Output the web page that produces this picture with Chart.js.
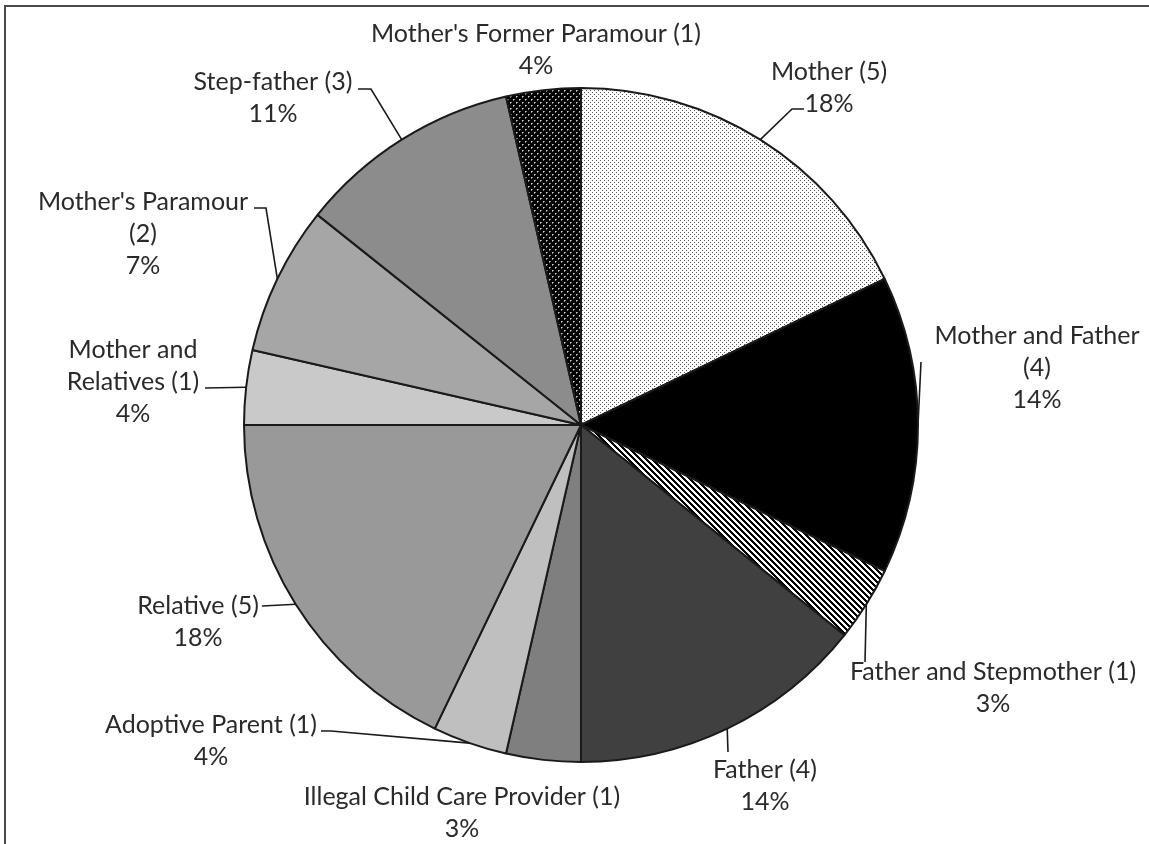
<!DOCTYPE html>
<html>
<head>
<meta charset="utf-8">
<script src="https://cdn.jsdelivr.net/npm/chart.js@4.4.1/dist/chart.umd.min.js"></script>
<style>
  html, body { margin: 0; padding: 0; background: #fff; }
  #wrap { position: relative; width: 1149px; height: 844px; overflow: hidden; }
  #frame { position: absolute; left: 4px; top: 5px; width: 2000px; height: 2000px;
           border-left: 2px solid #4a4a4a; border-top: 2px solid #4a4a4a; }
  canvas { position: absolute; left: 0; top: 0; }
</style>
</head>
<body>
<div id="wrap">
  <div id="frame"></div>
  <canvas id="c" width="1149" height="844"></canvas>
</div>
<script>
// ---- data ----
const categories = [
  "Mother", "Mother and Father", "Father and Stepmother", "Father",
  "Illegal Child Care Provider", "Adoptive Parent", "Relative",
  "Mother and Relatives", "Mother's Paramour", "Step-father",
  "Mother's Former Paramour"
];
const counts = [5, 4, 1, 4, 1, 1, 5, 1, 2, 3, 1];
const percentLabels = ["18%", "14%", "3%", "14%", "3%", "4%", "18%", "4%", "7%", "11%", "4%"];

// ---- label layout (annotation placement, not data) ----
const labelWrap = [400, 215, 400, 400, 400, 400, 400, 150, 225, 400, 400];
const labelPos = [
  [829, 72], [1037, 336], [993, 672], [765, 770], [462, 797], [211, 725],
  [198, 606], [133, 350], [143, 202], [273, 82], [536, 34]
];
const leaderPts = [
  [[792, 109], [804, 109]],
  [[921, 362]],
  [[865, 662]],
  [[728, 752]],
  [],
  [[331, 731], [321, 731]],
  [[262, 606]],
  [[205, 388]],
  [[266, 208], [254, 208]],
  [[371, 89], [358, 89]],
  []
];

// ---- fills ----
function makePattern(w, h, draw) {
  const c = document.createElement('canvas');
  c.width = w; c.height = h;
  const g = c.getContext('2d');
  draw(g, w, h);
  return document.getElementById('c').getContext('2d').createPattern(c, 'repeat');
}
const dotsLight = makePattern(4, 4, (g) => {
  g.fillStyle = '#fff'; g.fillRect(0, 0, 4, 4);
  g.fillStyle = '#5a5a5a'; g.fillRect(0, 0, 1, 1); g.fillRect(2, 2, 1, 1);
});
const dotsDark = makePattern(6, 6, (g) => {
  g.fillStyle = '#000'; g.fillRect(0, 0, 6, 6);
  g.fillStyle = '#d0d0d0'; g.fillRect(0, 0, 1, 1); g.fillRect(3, 3, 1, 1);
  g.fillStyle = '#808080'; g.fillRect(1, 0, 1, 1); g.fillRect(0, 1, 1, 1); g.fillRect(4, 3, 1, 1); g.fillRect(3, 4, 1, 1);
});
const stripes = makePattern(6, 6, (g) => {
  g.fillStyle = '#fff'; g.fillRect(0, 0, 6, 6);
  g.fillStyle = '#000';
  for (let y = 0; y < 6; y++) for (let k = 0; k < 3; k++) g.fillRect((y + k) % 6, y, 1, 1);
});
const fills = [dotsLight, '#000000', stripes, '#404040', '#7f7f7f', '#bfbfbf',
               '#999999', '#c9c9c9', '#a6a6a6', '#8c8c8c', dotsDark];

const FONT = '25px Lato, "Open Sans", sans-serif';
const TEXT = '#2a2a2a';
const LINE_H = 32;

function wrapText(ctx, text, maxW) {
  const words = text.split(' ');
  const lines = [];
  let cur = '';
  for (const w of words) {
    const t = cur ? cur + ' ' + w : w;
    if (cur && ctx.measureText(t).width > maxW) { lines.push(cur); cur = w; }
    else cur = t;
  }
  if (cur) lines.push(cur);
  return lines;
}

const labelPlugin = {
  id: 'sliceLabels',
  afterDraw(chart) {
    const ctx = chart.ctx;
    const arcs = chart.getDatasetMeta(0).data;
    ctx.save();
    ctx.font = FONT;
    // leaders
    ctx.strokeStyle = '#1a1a1a';
    ctx.lineWidth = 1.6;
    arcs.forEach((arc, i) => {
      const pts = leaderPts[i];
      if (!pts.length) return;
      const p = arc.getProps(['x', 'y', 'startAngle', 'endAngle', 'outerRadius'], true);
      const mid = (p.startAngle + p.endAngle) / 2;
      const ax = p.x + Math.cos(mid) * p.outerRadius;
      const ay = p.y + Math.sin(mid) * p.outerRadius;
      ctx.beginPath();
      ctx.moveTo(ax, ay);
      pts.forEach(q => ctx.lineTo(q[0], q[1]));
      ctx.stroke();
    });
    // texts
    ctx.fillStyle = TEXT;
    ctx.textAlign = 'center';
    ctx.textBaseline = 'middle';
    arcs.forEach((arc, i) => {
      const name = categories[i] + ' (' + counts[i] + ')';
      const lines = wrapText(ctx, name, labelWrap[i]);
      lines.push(percentLabels[i]);
      const [cx, cy] = labelPos[i];
      lines.forEach((ln, j) => {
        ctx.fillText(ln, cx, cy + j * LINE_H);
      });
    });
    ctx.restore();
  }
};

new Chart(document.getElementById('c'), {
  type: 'pie',
  data: {
    labels: categories,
    datasets: [{
      data: counts,
      backgroundColor: fills,
      borderColor: '#1a1a1a',
      borderWidth: 2
    }]
  },
  options: {
    responsive: false,
    devicePixelRatio: 1,
    animation: false,
    layout: { padding: { left: 243, right: 230, top: 87, bottom: 81 } },
    plugins: { legend: { display: false }, tooltip: { enabled: false } }
  },
  plugins: [labelPlugin]
});
</script>
</body>
</html>
